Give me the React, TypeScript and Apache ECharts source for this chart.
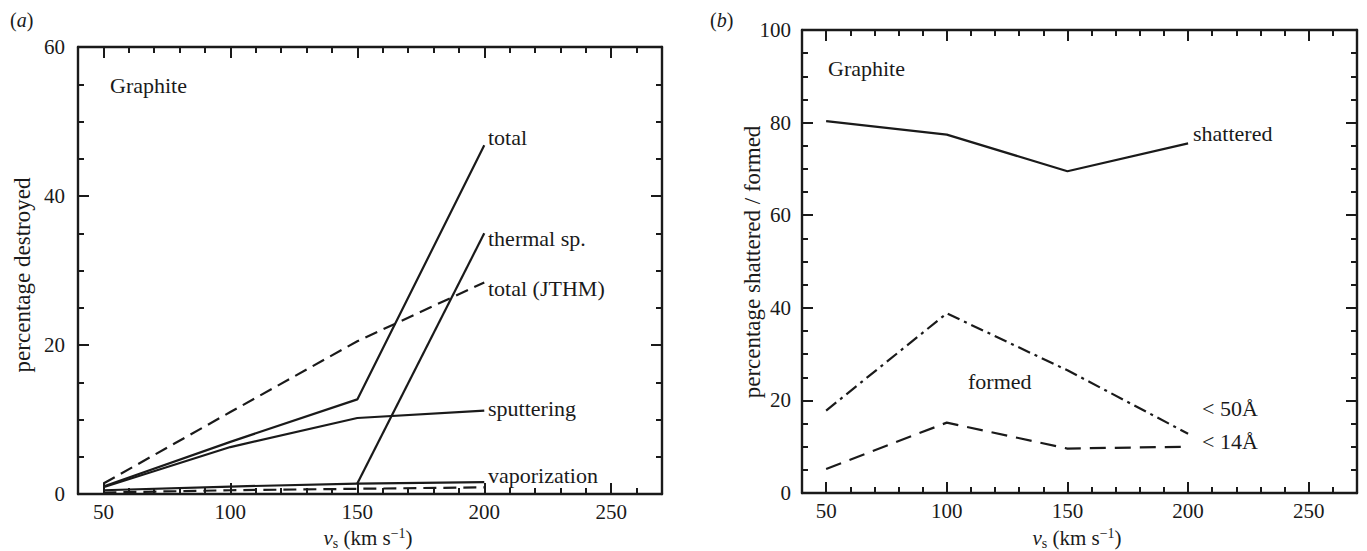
import React, { useEffect, useRef } from "react";
import * as echarts from "echarts";

// ---- data ----
const vs = [50, 100, 150, 200];
// panel (a) percentage destroyed
const totalA = [1.0, 7.0, 12.7, 46.8];
const thermalSp = [null, null, 1.4, 35.0];
const totalJTHM = [1.4, 11.0, 20.5, 28.4];
const sputtering = [0.9, 6.3, 10.2, 11.2];
const vaporization = [0.5, 1.0, 1.4, 1.6];
const vaporizationJTHM = [0.2, 0.5, 0.7, 0.9];
// panel (b) percentage shattered / formed
const shattered = [80.3, 77.4, 69.5, 75.5];
const formed50 = [17.8, 38.8, 26.5, 12.8];
const formed14 = [5.2, 15.2, 9.6, 10.0];
// axes
const xMajorTicks = [50, 100, 150, 200, 250];
const xMin = 40;
const xMax = 270;
const yMaxA = 60;
const yMaxB = 100;

const FONT = "Liberation Serif";
const INK = "#1a1a1a";
const LABEL_SIZE = 22;
const TITLE_SIZE = 23;

function pairs(vals: (number | null)[]) {
  const out: [number, number][] = [];
  vals.forEach((v, i) => {
    if (v !== null) out.push([vs[i], v]);
  });
  return out;
}

function xAxesFor(gi: number) {
  const line = { show: true, lineStyle: { color: INK, width: 2.4 } };
  const mk = (position: string, labels: boolean) => [
    {
      type: "value",
      gridIndex: gi,
      position,
      min: xMin,
      max: xMax,
      axisLine: line,
      axisTick: {
        show: true,
        inside: true,
        length: 11,
        customValues: xMajorTicks,
        lineStyle: { color: INK, width: 2 },
      },
      axisLabel: {
        show: labels,
        customValues: xMajorTicks,
        fontFamily: FONT,
        fontSize: 21,
        color: INK,
        margin: 7,
      },
      splitLine: { show: false },
    },
    {
      type: "value",
      gridIndex: gi,
      position,
      min: xMin,
      max: xMax,
      interval: 10,
      axisLine: { show: false },
      axisTick: {
        show: true,
        inside: true,
        length: 6,
        lineStyle: { color: INK, width: 2 },
      },
      axisLabel: { show: false },
      splitLine: { show: false },
    },
  ];
  return [...mk("bottom", true), ...mk("top", false)];
}

function yAxesFor(gi: number, max: number, margin: number) {
  const mk = (position: string, labels: boolean) => ({
    type: "value",
    gridIndex: gi,
    position,
    min: 0,
    max,
    interval: 20,
    axisLine: { show: true, lineStyle: { color: INK, width: 2.4 } },
    axisTick: {
      show: true,
      inside: true,
      length: 11,
      lineStyle: { color: INK, width: 2 },
    },
    minorTick: {
      show: true,
      splitNumber: 4,
      length: 6,
      lineStyle: { color: INK, width: 2 },
    },
    axisLabel: {
      show: labels,
      fontFamily: FONT,
      fontSize: 21,
      color: INK,
      margin,
    },
    splitLine: { show: false },
    minorSplitLine: { show: false },
  });
  return [mk("left", true), mk("right", false)];
}

function line(
  name: string,
  vals: (number | null)[],
  xi: number,
  yi: number,
  type: any
) {
  return {
    name,
    type: "line",
    xAxisIndex: xi,
    yAxisIndex: yi,
    data: pairs(vals),
    symbol: "none",
    silent: true,
    lineStyle: { color: INK, width: 2.2, type },
  };
}

function txt(text: string, x: number, y: number, extra: any = {}) {
  return {
    type: "text",
    x,
    y,
    silent: true,
    style: {
      text,
      fill: INK,
      fontFamily: FONT,
      fontSize: LABEL_SIZE,
      textAlign: "left",
      textVerticalAlign: "middle",
      ...extra,
    },
  };
}

const xTitleRich = {
  n: { fontFamily: FONT, fontSize: 21, color: INK, verticalAlign: "middle", lineHeight: 24 },
  i: {
    fontFamily: FONT,
    fontSize: 21,
    fontStyle: "italic",
    color: INK,
    verticalAlign: "middle",
    lineHeight: 24,
  },
  sub: { fontFamily: FONT, fontSize: 14, color: INK, verticalAlign: "bottom" },
  sup: { fontFamily: FONT, fontSize: 14, color: INK, verticalAlign: "top" },
};

function xTitle(x: number, y: number) {
  return {
    type: "text",
    x,
    y,
    silent: true,
    style: {
      text: "{i|v}{sub|s}{n| (km s}{sup|−1}{n|)}",
      rich: xTitleRich,
      fontFamily: FONT,
      fontSize: 21,
      textAlign: "center",
      textVerticalAlign: "middle",
      fill: INK,
    },
  };
}

function panelTag(letter: string, x: number) {
  return {
    type: "text",
    x,
    y: 20,
    silent: true,
    style: {
      text: "{n|(}{i|" + letter + "}{n|)}",
      rich: {
        n: { fontFamily: FONT, fontSize: 20, color: INK },
        i: { fontFamily: FONT, fontSize: 20, fontStyle: "italic", color: INK },
      },
      fontFamily: FONT,
      fontSize: 20,
      fill: INK,
      textAlign: "left",
      textVerticalAlign: "middle",
    },
  };
}

function yTitle(text: string, x: number, y: number) {
  return {
    type: "text",
    x,
    y,
    rotation: Math.PI / 2,
    silent: true,
    style: {
      text,
      fill: INK,
      fontFamily: FONT,
      fontSize: TITLE_SIZE,
      textAlign: "center",
      textVerticalAlign: "middle",
    },
  };
}

export default function App() {
  const ref = useRef<HTMLDivElement>(null);
  useEffect(() => {
    if (!ref.current) return;
    const chart = echarts.init(ref.current, null, { renderer: "svg" });
    const dash: any = [13, 7];
    const dashDot: any = [13, 5, 3, 5];
    chart.setOption({
      animation: false,
      backgroundColor: "#ffffff",
      textStyle: { fontFamily: FONT },
      grid: [
        { left: 78, top: 47, width: 584, height: 447 },
        { left: 802, top: 30, width: 555, height: 463 },
      ],
      xAxis: [...xAxesFor(0), ...xAxesFor(1)],
      yAxis: [...yAxesFor(0, yMaxA, 13), ...yAxesFor(1, yMaxB, 11)],
      series: [
        line("total", totalA, 0, 0, "solid"),
        line("thermal sp.", thermalSp, 0, 0, "solid"),
        line("total (JTHM)", totalJTHM, 0, 0, dash),
        line("sputtering", sputtering, 0, 0, "solid"),
        line("vaporization", vaporization, 0, 0, "solid"),
        line("vaporization (JTHM)", vaporizationJTHM, 0, 0, dash),
        line("shattered", shattered, 4, 2, "solid"),
        line("< 50Å", formed50, 4, 2, dashDot),
        line("< 14Å", formed14, 4, 2, [16, 9]),
      ],
      graphic: [
        panelTag("a", 10),
        panelTag("b", 710),
        txt("Graphite", 110, 85),
        txt("Graphite", 828, 68),
        txt("total", 488, 137),
        txt("thermal sp.", 488, 238),
        txt("total (JTHM)", 488, 288),
        txt("sputtering", 488, 408),
        txt("vaporization", 488, 475),
        txt("shattered", 1193, 133),
        txt("formed", 968, 381),
        txt("< 50Å", 1202, 408),
        txt("< 14Å", 1202, 441),
        yTitle("percentage destroyed", 22, 275),
        yTitle("percentage shattered / formed", 752, 262),
        xTitle(368, 538),
        xTitle(1077, 538),
      ],
    });
    return () => chart.dispose();
  }, []);
  return (
    <div
      ref={ref}
      style={{ width: 1367, height: 551, position: "absolute", left: 0, top: 0 }}
    />
  );
}
